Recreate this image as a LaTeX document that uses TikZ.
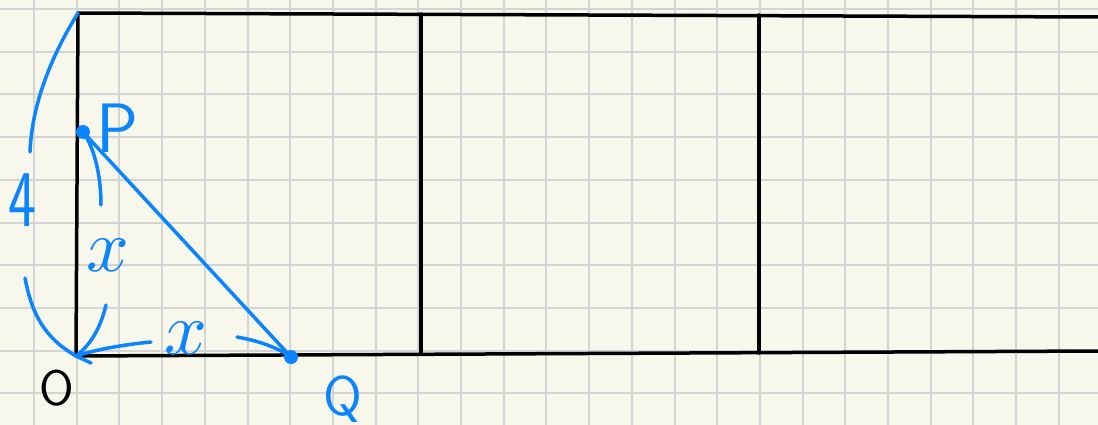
\documentclass[tikz,border=0pt]{standalone}
\usepackage{amsmath}
\usepackage{graphicx}
\usepackage{tikz}
\usetikzlibrary{%
	calc%
}
\definecolor{paper}{RGB}{248,247,236}
\definecolor{gridgray}{RGB}{212,212,212}
\definecolor{penblue}{RGB}{10,132,255}
\tikzset{
	pen/.style={penblue,line width=3.5pt,line cap=round,line join=round},
	wall/.style={black,line width=3.5pt,line cap=round},
	dot/.style={circle,fill=penblue,inner sep=0pt,minimum size=14pt},
	hand/.style={penblue,inner sep=0pt},
}

\begin{document}
\begin{tikzpicture}[x=1pt,y=-1pt]
		\fill[paper] (0,0) rectangle (1098,425);
		\useasboundingbox (0,0) rectangle (1098,425);
		
		% squared paper
		\foreach \k in {0,...,24}
			\draw[gridgray,line width=2pt] ({34+42.7*\k},0)--({34+42.7*\k},425);
		\foreach \k in {0,...,9}
			\draw[gridgray,line width=2pt] (0,{9+42.7*\k})--(1098,{9+42.7*\k});
		
		% the strip
		\coordinate (O) at (76,356);
		\coordinate (A) at (78,13);
		\coordinate (B1) at (421,14);
		\coordinate (B2) at (421,354);
		\coordinate (C1) at (759,15);
		\coordinate (C2) at (759,353);
		\coordinate (E1) at (1098,17);
		\coordinate (E2) at (1098,351);
		\draw[wall] (A)--(E1);
		\draw[wall] (O)--(E2);
		\draw[wall] (A)--(O);
		\draw[wall] (B1)--(B2);
		\draw[wall] (C1)--(C2);
		
		% points
		\node[dot] (P) at (83,132) {};
		\node[dot] (Q) at (291,357) {};
		\draw[pen] (P.center)--(Q.center);
		
		% brace for the side 4
		\draw[pen] (A) .. controls (55,50) and (32,100) .. (30,152);
		\draw[pen] (25,278) .. controls (32,315) and (45,338) .. (O);
		\node[hand] (four) at (22,200) {\scalebox{0.85}[1.15]{\sffamily\fontsize{70}{70}\selectfont 4}};
		
		% OP = x
		\draw[pen] (P.center) .. controls (96,150) and (101,180) .. (101,205);
		\draw[pen] (106,305) .. controls (100,330) and (90,345) .. (O);
		\node[hand] (xv) at (108,255) {\scalebox{7.5}{$x$}};
		
		% OQ = x
		\draw[pen] (151,342) .. controls (120,345) and (95,350) .. (O) -- (91,363);
		\draw[pen] (237,337) .. controls (260,341) and (278,348) .. (Q.center);
		\node[hand] (xh) at (186,338) {\scalebox{7.5}{$x$}};
		
		% labels
		\node[hand,font=\sffamily\fontsize{70}{70}\selectfont] (Plab) at (117,128) {P};
		\node[hand,font=\sffamily\fontsize{56}{56}\selectfont] (Qlab) at (343,399) {Q};
		\node[inner sep=0pt,font=\sffamily\fontsize{50}{50}\selectfont] (Olab) at (57,388) {O};
	\end{tikzpicture}
\end{document}
